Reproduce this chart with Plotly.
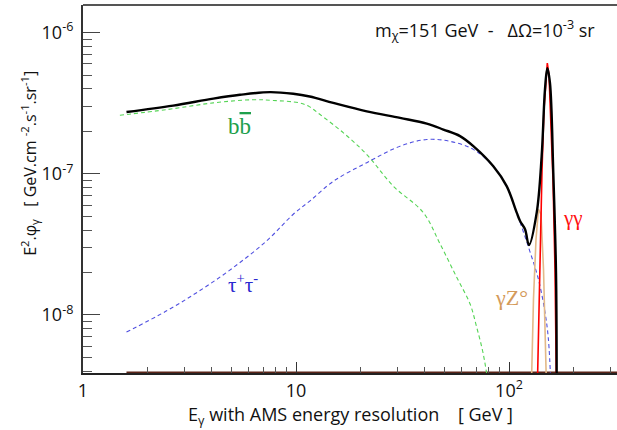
import plotly.graph_objects as go

# ---- data ----
total_E = [1.60, 2.65, 4.09, 5.46, 7.55, 9.71, 11.6, 14.96, 21.5, 30.8, 41.1, 49.2, 58.9, 68.0,
           84.4, 97.5, 108.7, 112.7, 118.9, 124.1, 134.9, 142.3, 147.5, 151.3, 155.7, 161.4, 166.2, 167.4]
total_F = [2.74e-7, 3.04e-7, 3.41e-7, 3.63e-7, 3.79e-7, 3.69e-7, 3.53e-7, 3.18e-7, 2.77e-7, 2.49e-7,
           2.27e-7, 2.06e-7, 1.85e-7, 1.57e-7, 1.13e-7, 8.18e-8, 5.31e-8, 4.63e-8, 4.05e-8, 3.13e-8,
           5.31e-8, 1.33e-7, 3.95e-7, 5.61e-7, 4.40e-7, 1.02e-7, 2.01e-8, 3.0e-9]

bb_E = [1.49, 2.47, 4.09, 6.31, 7.82, 10.4, 11.6, 12.97, 16.7, 21.5, 28.6, 39.6, 47.5, 56.8,
        65.6, 70.5, 75.7, 80.5]
bb_F = [2.60e-7, 2.85e-7, 3.18e-7, 3.35e-7, 3.31e-7, 3.18e-7, 2.98e-7, 2.63e-7, 1.95e-7, 1.37e-7,
        8.19e-8, 5.31e-8, 3.18e-8, 1.85e-8, 1.20e-8, 8.2e-9, 5.3e-9, 3.0e-9]

tau_E = [1.60, 2.47, 3.54, 5.08, 7.28, 9.71, 11.6, 15.0, 21.5, 30.8, 41.1, 52.8, 68.0, 84.4,
         97.5, 108.7, 124.1, 137.3, 147.5, 153.0, 157.5]
tau_F = [7.57e-9, 1.07e-8, 1.49e-8, 2.17e-8, 3.35e-8, 5.17e-8, 6.41e-8, 8.87e-8, 1.20e-7, 1.57e-7,
         1.75e-7, 1.70e-7, 1.49e-7, 1.13e-7, 8.18e-8, 5.3e-8, 2.95e-8, 1.80e-8, 1.05e-8, 6.8e-9, 3.0e-9]

gg_E = [135.8, 139.9, 142.9, 145.9, 149.2, 151.3, 154.1, 157.4, 160.9, 164.4, 167.0]
gg_F = [3.0e-9, 2.92e-8, 1.07e-7, 2.85e-7, 5.03e-7, 6.08e-7, 5.03e-7, 2.42e-7, 9.1e-8, 2.11e-8, 3.0e-9]

gz_E = [127.3, 130.3, 133.9, 137.5, 141.3, 145.2, 150.0]
gz_F = [3.0e-9, 1.30e-8, 3.44e-8, 5.61e-8, 5.17e-8, 2.11e-8, 3.0e-9]

floor_E = [1.60, 330.0]
floor_F = [3.9e-9, 3.9e-9]

x_tickvals = [1, 10, 100]
x_ticktext = ["1", "10", "10<sup>2</sup>"]
y_tickvals = [1e-8, 1e-7, 1e-6]
y_ticktext = ["10<sup>-8</sup>", "10<sup>-7</sup>", "10<sup>-6</sup>"]

x_minor = [m * d for d in (1, 10, 100) for m in range(2, 10)]
y_minor = [m * d for d in (1e-9, 1e-8, 1e-7, 1e-6) for m in range(2, 10)]

SANS = "Open Sans, Liberation Sans, sans-serif"
SERIF = "Liberation Serif, DejaVu Serif, serif"

fig = go.Figure()
fig.add_trace(go.Scatter(x=floor_E, y=floor_F, mode="lines",
                         line=dict(color="#5a2418", width=2.5), hoverinfo="skip"))
fig.add_trace(go.Scatter(x=bb_E, y=bb_F, mode="lines", line_shape="spline",
                         line=dict(color="#55d455", width=1.1, dash="4px,3px")))
fig.add_trace(go.Scatter(x=tau_E, y=tau_F, mode="lines", line_shape="spline",
                         line=dict(color="#5050e0", width=1.1, dash="4px,3px")))
fig.add_trace(go.Scatter(x=gz_E, y=gz_F, mode="lines",
                         line=dict(color="#e3b988", width=1.6)))
fig.add_trace(go.Scatter(x=gg_E, y=gg_F, mode="lines",
                         line=dict(color="#ff0000", width=1.6)))
fig.add_trace(go.Scatter(x=total_E, y=total_F, mode="lines", line_shape="spline",
                         line=dict(color="#000000", width=2.4)))

fig.update_layout(
    width=617, height=430,
    margin=dict(l=83, r=0, t=5, b=57),
    plot_bgcolor="white", paper_bgcolor="white",
    showlegend=False,
    font=dict(family=SANS, size=17, color="#111"),
    xaxis=dict(type="log", range=[0, 2.507], showgrid=False, zeroline=False,
               showline=True, linecolor="#222", linewidth=2,
               ticks="inside", ticklen=11, tickwidth=1.2, tickcolor="#333",
               tickvals=x_tickvals, ticktext=x_ticktext,
               tickfont=dict(size=18, family=SANS, color="#111"),
               minor=dict(tickvals=x_minor, ticks="inside", ticklen=6, tickcolor="#555", tickwidth=1.2)),
    yaxis=dict(type="log", range=[-8.411, -5.804], showgrid=False, zeroline=False,
               showline=True, linecolor="#333", linewidth=2,
               ticks="inside", ticklen=17, tickwidth=1.2, tickcolor="#444",
               tickvals=y_tickvals, ticktext=y_ticktext, ticklabelstandoff=4,
               tickfont=dict(size=18, family=SANS, color="#111"),
               minor=dict(tickvals=y_minor, ticks="inside", ticklen=9, tickcolor="#555", tickwidth=1.2)),
    shapes=[dict(type="line", xref="paper", yref="paper", x0=0, x1=1, y0=1, y1=1,
                 line=dict(color="#555", width=2))],
)

ann = [
    dict(text="E<sub>γ</sub> with AMS energy resolution    [ GeV ]", x=0.5, y=-0.115,
         font=dict(size=18, family=SANS, color="#111")),
    dict(text="E<sup>2</sup>.φ<sub>γ</sub>   [ GeV.cm <sup>-2</sup>.s<sup>-1</sup>.sr<sup>-1</sup>]",
         x=-0.0993, y=0.571, textangle=-90, font=dict(size=16, family=SANS, color="#111")),
    dict(text="m<sub>χ</sub>=151 GeV  -   ΔΩ=10<sup>-3</sup> sr", x=0.752, y=0.932,
         font=dict(size=18, family=SANS, color="#111")),
    dict(text="b<span style='text-decoration:overline'>b</span>", x=0.294, y=0.671,
         font=dict(size=23, family=SERIF, color="#1ea04c")),
    dict(text="τ<sup>+</sup>τ<sup>-</sup>", x=0.2996, y=0.242,
         font=dict(size=21, family=SERIF, color="#2a2ad0")),
    dict(text="γZ°", x=0.803, y=0.204,
         font=dict(size=22, family=SERIF, color="#d49a5a")),
    dict(text="γγ", x=0.918, y=0.421,
         font=dict(size=21, family=SERIF, color="#ff1010")),
]
for a in ann:
    a.update(xref="paper", yref="paper", showarrow=False, xanchor="center", yanchor="middle")
fig.update_layout(annotations=ann)

fig.write_html("out.html")
